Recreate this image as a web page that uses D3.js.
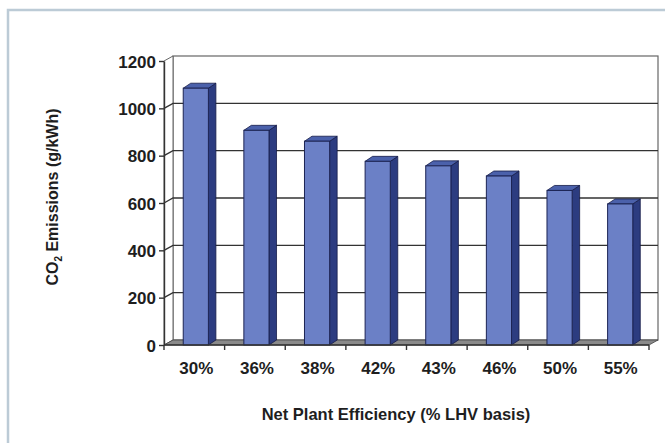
<!DOCTYPE html>
<html>
<head>
<meta charset="utf-8">
<script src="https://cdn.jsdelivr.net/npm/d3@7"></script>
<style>
  body { margin: 0; background: #fff; }
  svg text { font-family: "Liberation Sans", Arial, sans-serif; font-weight: bold; fill: #1e1e1e; }
</style>
</head>
<body>
<svg id="chart" width="665" height="443"></svg>
<script>
// chart data
var categories = ["30%", "36%", "38%", "42%", "43%", "46%", "50%", "55%"];
var emissions = [1085, 907, 861, 776, 757, 714, 653, 596];
var yTicks = [0, 200, 400, 600, 800, 1000, 1200];

var svg = d3.select("#chart");

// outer frame (only top + left edge are visible)
svg.append("path")
	.attr("d", "M8,443 L8,10 L665,10")
	.attr("fill", "none")
	.attr("stroke", "#bccbd6")
	.attr("stroke-width", 2.5);

var x0 = 164, x1 = 649;   // front plane of plot
var dx = 9, dy = -5;      // 3d depth

var y = d3.scaleLinear().domain([0, 1200]).range([345, 61]);
var x = d3.scaleBand().domain(categories).range([x0, x1]).paddingInner(0.585).paddingOuter(0.2925);

var g = svg.append("g");

// back wall
g.append("rect")
	.attr("x", x0 + dx).attr("y", y(1200) + dy)
	.attr("width", x1 - x0).attr("height", y(0) - y(1200))
	.attr("fill", "#fff").attr("stroke", "#666").attr("stroke-width", 1.2);

// left side wall
g.append("path")
	.attr("d", "M" + x0 + "," + y(0) + " L" + x0 + "," + y(1200) + " L" + (x0 + dx) + "," + (y(1200) + dy) + " L" + (x0 + dx) + "," + (y(0) + dy) + "Z")
	.attr("fill", "#fff").attr("stroke", "#666").attr("stroke-width", 1);

// gridlines
yTicks.filter(function (d) { return d > 0 && d < 1200; }).forEach(function (d) {
	g.append("path")
		.attr("d", "M" + x0 + "," + y(d) + " L" + (x0 + dx) + "," + (y(d) + dy) + " L" + (x1 + dx) + "," + (y(d) + dy))
		.attr("fill", "none").attr("stroke", "#333").attr("stroke-width", 1.4);
});

// floor
g.append("path")
	.attr("d", "M" + x0 + "," + y(0) + " L" + x1 + "," + y(0) + " L" + (x1 + dx) + "," + (y(0) + dy) + " L" + (x0 + dx) + "," + (y(0) + dy) + "Z")
	.attr("fill", "#8a8a8a").attr("stroke", "#444").attr("stroke-width", 0.8);

// bars
var bdx = 7.5, bdy = -5, off = 1.5;
var bars = g.selectAll(".bar").data(emissions).enter().append("g").attr("class", "bar");
bars.each(function (d, i) {
	var b = d3.select(this);
	var bx = x(categories[i]) + off, bw = x.bandwidth();
	var top = y(d), bot = y(0);
	// side
	b.append("path")
		.attr("d", "M" + (bx + bw) + "," + bot + " L" + (bx + bw) + "," + top + " L" + (bx + bw + bdx) + "," + (top + bdy) + " L" + (bx + bw + bdx) + "," + (bot + bdy) + "Z")
		.attr("fill", "#2c3c80").attr("stroke", "#151c48").attr("stroke-width", 0.8);
	// top
	b.append("path")
		.attr("d", "M" + bx + "," + top + " L" + (bx + bdx) + "," + (top + bdy) + " L" + (bx + bw + bdx) + "," + (top + bdy) + " L" + (bx + bw) + "," + top + "Z")
		.attr("fill", "#4b61ab").attr("stroke", "#151c48").attr("stroke-width", 0.8);
	// front
	b.append("rect")
		.attr("x", bx).attr("y", top).attr("width", bw).attr("height", bot - top)
		.attr("fill", "#6b80c6").attr("stroke", "#1c2454").attr("stroke-width", 1);
});

// y axis
var yAxis = g.append("g")
	.attr("transform", "translate(" + x0 + ",0)")
	.call(d3.axisLeft(y).tickValues(yTicks).tickFormat(d3.format("d")).tickSize(5).tickPadding(3).tickSizeOuter(0));
yAxis.select(".domain").attr("stroke", "#333").attr("stroke-width", 1.4);
yAxis.selectAll(".tick line").attr("stroke", "#333").attr("stroke-width", 1.4);
yAxis.selectAll("text").style("font-size", "17px").attr("fill", "#1e1e1e").attr("dy", "0.36em");

// x axis: ticks at category boundaries
var bounds = d3.range(categories.length + 1).map(function (i) { return x0 + i * x.step(); });
g.selectAll(".xtick").data(bounds).enter().append("line")
	.attr("x1", function (d) { return d; }).attr("x2", function (d) { return d; })
	.attr("y1", y(0)).attr("y2", y(0) + 5)
	.attr("stroke", "#333").attr("stroke-width", 1.4);
g.append("line").attr("x1", x0).attr("x2", x1).attr("y1", y(0)).attr("y2", y(0))
	.attr("stroke", "#333").attr("stroke-width", 1.4);

g.selectAll(".xlabel").data(categories).enter().append("text")
	.attr("x", function (d) { return x(d) + x.bandwidth() / 2 + 2; })
	.attr("y", 374)
	.attr("text-anchor", "middle")
	.style("font-size", "17px")
	.text(function (d) { return d; });

// axis titles
svg.append("text")
	.attr("x", 396).attr("y", 420)
	.attr("text-anchor", "middle")
	.style("font-size", "16.5px")
	.text("Net Plant Efficiency (% LHV basis)");

var yt = svg.append("text")
	.attr("transform", "translate(58,197) rotate(-90)")
	.attr("text-anchor", "middle")
	.style("font-size", "16px");
yt.append("tspan").text("CO");
yt.append("tspan").attr("dy", 4).style("font-size", "10px").text("2");
yt.append("tspan").attr("dy", -4).text(" Emissions (g/kWh)");
</script>
</body>
</html>
